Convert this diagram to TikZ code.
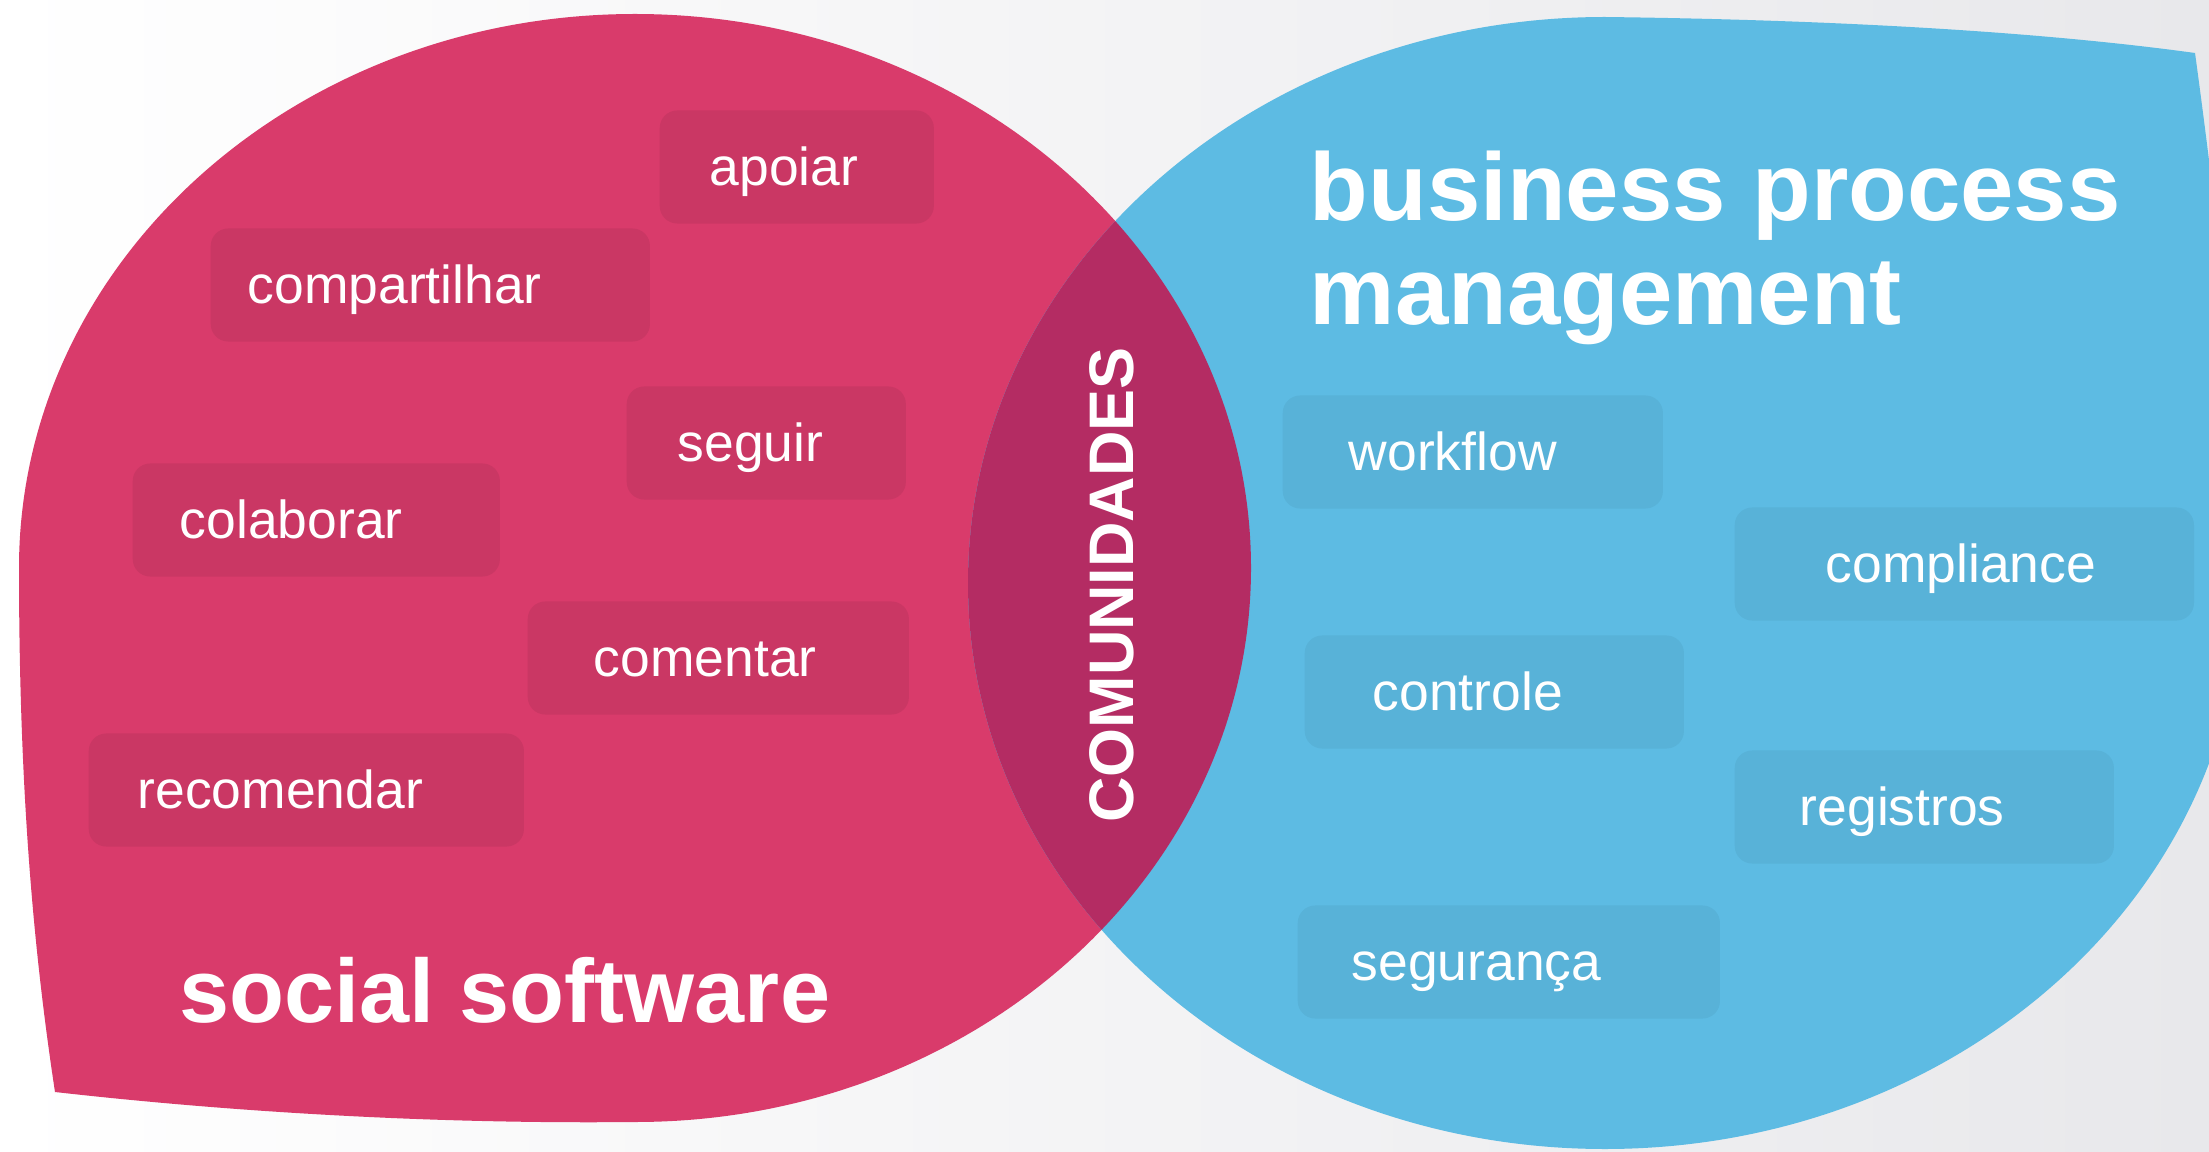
\documentclass[tikz,border=0pt]{standalone}
\usepackage{fontspec}
\setmainfont{Liberation Sans}
\usepackage{tikz}
\usetikzlibrary{positioning}
\definecolor{ssPink}{RGB}{217,59,107}
\definecolor{bpmBlue}{RGB}{93,187,227}
\definecolor{comLens}{RGB}{180,44,99}
\definecolor{bgGray}{RGB}{232,232,235}

\begin{document}
\begin{tikzpicture}[x=0.01cm, y=-0.01cm,
      tag/.style={rectangle, rounded corners=5pt, anchor=west, minimum height=1.13cm, inner ysep=0pt, text height=14pt, text depth=3.2pt, align=left, text=white, font=\fontsize{15.2}{18}\selectfont},
      pinktag/.style={tag, fill=ssPink!93!black}, bluetag/.style={tag, fill=bpmBlue!95!black},
      headline/.style={text=white, inner sep=0pt, align=left, anchor=base west, font=\bfseries\fontsize{27.3}{29.6}\selectfont}]

\useasboundingbox (0,0) rectangle (2209,1152);
\clip (0,0) rectangle (2209,1152);
\shade[left color=white, right color=bgGray] (0,0) rectangle (2209,1152);

\fill[ssPink] (635,1122) arc[start angle=90, end angle=-180, x radius=616, y radius=554]
   .. controls (19,800) and (35,960) .. (55,1092) .. controls (250,1114) and (450,1124) .. (635,1122) -- cycle;
\fill[bpmBlue] (1605,17) .. controls (1850,20) and (2050,33) .. (2195,53) .. controls (2215,200) and (2242,420) .. (2242,583)
   arc[start angle=0, end angle=270, x radius=637, y radius=566] -- cycle;
\begin{scope}
\clip (635,568) ellipse [x radius=616, y radius=554];
\fill[comLens] (1605,583) ellipse [x radius=637, y radius=566];
\end{scope}

\node[pinktag, inner xsep=0.50cm, text width=1.74cm] (apoiar) at (659,167) {apoiar};
\node[pinktag, inner xsep=0.37cm, text width=3.65cm] (compartilhar) at (210,285) {compartilhar};
\node[pinktag, inner xsep=0.51cm, text width=1.77cm] (seguir) at (626,443) {seguir};
\node[pinktag, inner xsep=0.47cm, text width=2.73cm] (colaborar) at (132,520) {colaborar};
\node[pinktag, inner xsep=0.66cm, text width=2.49cm] (comentar) at (527,658) {comentar};
\node[pinktag, inner xsep=0.49cm, text width=3.37cm] (recomendar) at (88,790) {recomendar};

\node[bluetag, inner xsep=0.66cm, text width=2.48cm] (workflow) at (1282,452) {workflow};
\node[bluetag, inner xsep=0.91cm, text width=2.77cm] (compliance) at (1734,564) {compliance};
\node[bluetag, inner xsep=0.68cm, text width=2.43cm] (controle) at (1304,692) {controle};
\node[bluetag, inner xsep=0.65cm, text width=2.49cm] (registros) at (1734,807) {registros};
\node[bluetag, inner xsep=0.54cm, text width=3.14cm] (seguranca) at (1297,962) {segurança};

\node[headline, font=\bfseries\fontsize{25.6}{29}\selectfont] (social) at (179,1022) {social software};
\node[headline] (bpm) at (1309,325) {business process\\management};
\node[headline, anchor=center, font=\bfseries\fontsize{17.9}{20}\selectfont, rotate=90] (comunidades) at (1112,585) {COMUNIDADES};

\end{tikzpicture}
\end{document}
